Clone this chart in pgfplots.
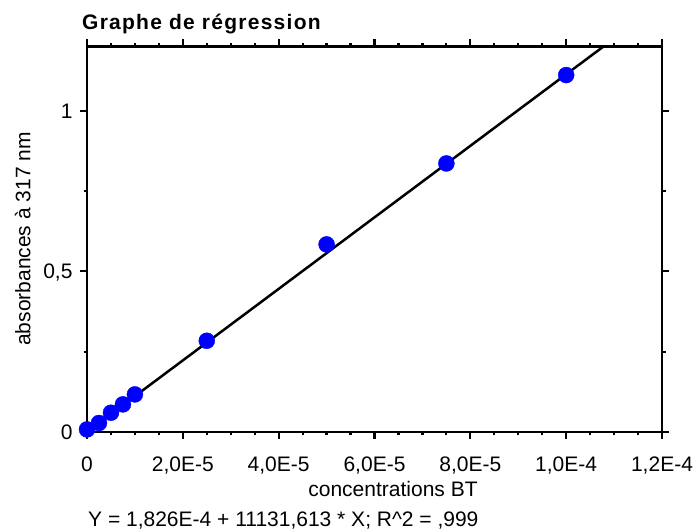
\documentclass[border=0pt]{standalone}
\usepackage{pgfplots}
\pgfplotsset{compat=1.18}
\usepackage{fontspec}
\setmainfont{Liberation Sans}
\definecolor{ptblue}{RGB}{0,0,255}
\newcommand{\lbl}{\fontsize{21}{21}\selectfont}
\begin{document}
\begin{tikzpicture}[x=1pt,y=1pt]
\path[use as bounding box] (0,0) rectangle (694,532);
\begin{axis}[
  at={(87pt,100pt)}, anchor=south west,
  scale only axis, width=575pt, height=385.5pt,
  xmin=0, xmax=1.2e-4, ymin=0, ymax=1.2,
  clip=false,
  axis line style={line width=2.5pt},
  tick align=outside,
  major tick length=7pt, minor tick length=3.5pt,
  every tick/.style={black, line width=2.2pt},
  xtick={0,2e-5,4e-5,6e-5,8e-5,1e-4,1.2e-4},
  xticklabels={0,{2,0E-5},{4,0E-5},{6,0E-5},{8,0E-5},{1,0E-4},{1,2E-4}},
  minor x tick num=3,
  ytick={0,0.5,1},
  yticklabels={0,{0,5},1},
  minor y tick num=1,
  scaled x ticks=false,
  xticklabel style={font=\lbl, anchor=base, yshift=-33pt},
  yticklabel style={font=\lbl, anchor=base east, yshift=-7.5pt, xshift=-4pt},
]
\addplot[black, line width=2.5pt, no marks] coordinates {(0,1.826e-4) (1.07784e-4,1.2)};
\addplot[only marks, mark=*, mark size=8pt, color=ptblue, mark options={fill=ptblue, draw=ptblue}] coordinates {
(0,0.008) (2.5e-6,0.028) (5e-6,0.060) (7.5e-6,0.086) (1e-5,0.117)
(2.5e-5,0.284) (5e-5,0.584) (7.5e-5,0.836) (1e-4,1.111)};
\end{axis}
\node[anchor=base west, inner sep=0, font=\fontsize{21}{21}\selectfont\bfseries\addfontfeature{LetterSpace=6}] at (82,502) {Graphe de régression};
\node[anchor=base, inner sep=0, font=\lbl] at (393,35) {concentrations BT};
\node[anchor=base west, inner sep=0, font=\lbl] at (88,5) {Y = 1,826E-4 + 11131,613 * X; R\^{}2 = ,999};
\node[anchor=base, inner sep=0, rotate=90, font=\lbl] at (30.5,293) {absorbances à 317 nm};
\end{tikzpicture}
\end{document}
